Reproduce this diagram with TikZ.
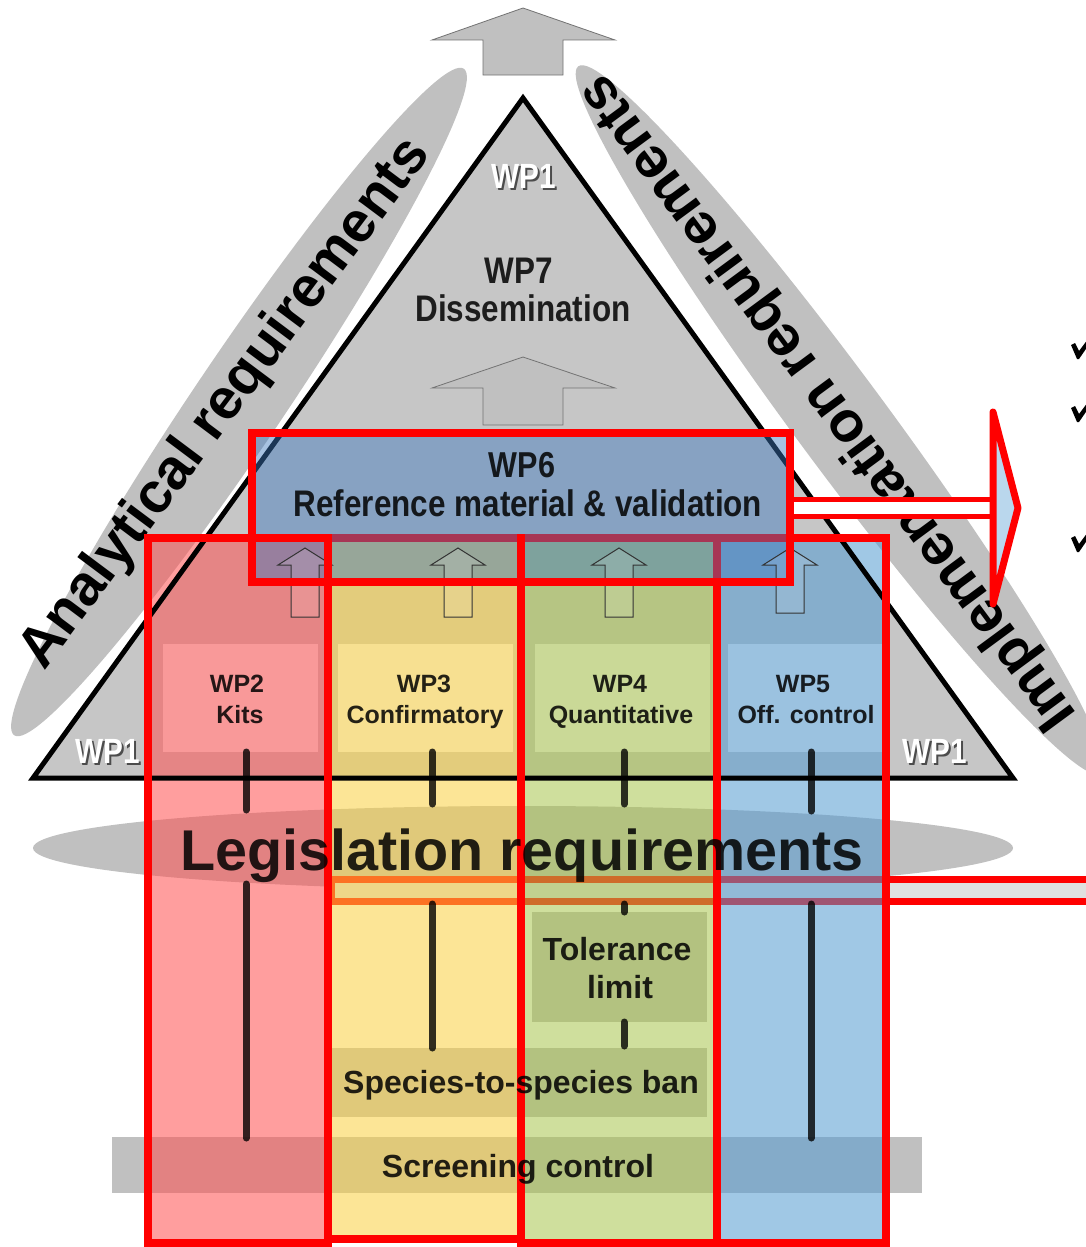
\documentclass[tikz,border=0pt]{standalone}
\usepackage{fontspec}
\setmainfont{Liberation Sans}
\newfontfamily\nar[FakeStretch=0.85]{Liberation Sans}
\definecolor{gr}{HTML}{C0C0C0}
\definecolor{tri}{HTML}{C6C6C6}
\definecolor{cRed}{RGB}{255,80,80}
\definecolor{cYel}{RGB}{251,209,65}
\definecolor{cGrn}{RGB}{169,197,77}
\definecolor{cBlu}{RGB}{83,155,209}
\definecolor{cWP}{RGB}{60,120,190}
\definecolor{rl}{RGB}{255,0,0}
\begin{document}
\begin{tikzpicture}[x=1pt,y=-1pt,
  graybox/.style={fill=gr},
  colfill/.style={fill opacity=0.55},
  redline/.style={draw=rl,line width=8pt,line join=miter},
  vline/.style={draw=black,draw opacity=0.8,line width=7pt,line cap=round},
  bigarrow/.style={fill=gr,draw=black!55,line width=0.8pt},
  smallarrow/.style={draw=black!80,line width=1pt,fill=white,fill opacity=0.12},
  lbl/.style={text=black,text opacity=0.85,inner sep=0pt,anchor=base,align=center},
  wplbl/.style={lbl,font=\bfseries\fontsize{25}{31}\selectfont},
  wpone/.style={inner sep=0pt,anchor=base,font=\nar\bfseries\fontsize{35}{40}\selectfont},
  req/.style={inner sep=0pt,font=\bfseries\fontsize{57}{64}\selectfont}]
\useasboundingbox (0,0) rectangle (1085,1247);
\fill[white] (0,0) rectangle (1085,1247);
% top arrow
\draw[bigarrow] (523,8)--(615,40)--(563,40)--(563,75)--(483,75)--(483,40)--(432,40)--cycle;
% side ellipses
\fill[gr,rotate around={56:(239,402)}] (239,402) ellipse [x radius=402pt,y radius=45pt];
\fill[gr,rotate around={-53.5:(840,420)}] (840,420) ellipse [x radius=440pt,y radius=46pt];
\node[req,rotate=53.2] (anreq) at (226,404) {Analytical requirements};
\node[req,rotate=126.4] (imreq) at (829,402) {Implementation requirements};
% triangle
\fill[tri] (523,98)--(1013,778)--(33,778)--cycle;
\foreach \n/\x/\y in {t/524/188,l/108/763,r/935/763}{
  \node[wpone,text=black!70] (wpsh\n) at (\x+2,\y+2) {WP1};
  \node[wpone,text=white] (wpone\n) at (\x,\y) {WP1};}
\node[lbl,font=\nar\bfseries\fontsize{37}{42}\selectfont] (wp7) at (519,283) {WP7};
\node[lbl,font=\nar\bfseries\fontsize{37}{42}\selectfont] (diss) at (523,321) {Dissemination};
\draw[bigarrow] (523,357)--(615,388)--(563,388)--(563,425)--(483,425)--(483,388)--(432,388)--cycle;
% WP boxes
\fill[white,fill opacity=0.8] (163,644) rectangle (318,752);
\fill[white,fill opacity=0.8] (338,644) rectangle (513,752);
\fill[white,fill opacity=0.8] (535,644) rectangle (710,752);
\fill[white,fill opacity=0.8] (728,644) rectangle (882,752);
% legislation ellipse, bar, boxes
\fill[gr] (523,848) ellipse [x radius=490pt,y radius=42pt];
\draw[draw=rl,line width=7pt,fill=black!12] (331,879) rectangle (1100,901);
\fill[graybox] (532,912) rectangle (707,1022);
\fill[graybox] (331,1048) rectangle (707,1117);
\fill[graybox] (112,1137) rectangle (922,1193);
% column fills
\fill[cYel,colfill] (328,538) rectangle (521,1239);
\fill[cGrn,colfill] (521,538) rectangle (717,1243);
\fill[cBlu,colfill] (717,538) rectangle (886,1243);
\fill[cRed,colfill] (148,538) rectangle (328,1243);
% triangle outline
\draw[black,line width=5pt,line join=miter] (523,98)--(1013,778)--(33,778)--cycle;
% red outlines of columns 3-5
\draw[redline] (328,538) rectangle (521,1239);
\draw[redline] (521,538) rectangle (717,1243);
\draw[redline] (717,538) rectangle (886,1243);
% WP6 fill
\fill[cWP,fill opacity=0.45] (252,433) rectangle (790,582);
% vertical lines
\draw[vline] (246,752)--(246,810) (246,884)--(246,1138);
\draw[vline] (432,752)--(432,804) (432,904)--(432,1048);
\draw[vline] (624,752)--(624,804) (624,904)--(624,912) (624,1022)--(624,1046);
\draw[vline] (811,752)--(811,811) (811,904)--(811,1138);
% small arrows
\foreach \c/\b in {305/617,458/617,619/617,790/613}{
  \draw[smallarrow] (\c,548)--(\c+27,565)--(\c+14,565)--(\c+14,\b)--(\c-14,\b)--(\c-14,565)--(\c-27,565)--cycle;}
% WP6 outline and arrow
\draw[draw=rl,line width=5pt,fill=white] (790,499) rectangle (993,516);
\draw[draw=rl,line width=7pt,fill=cBlu!40,line join=round] (993,412)--(1018,508)--(993,604)--cycle;
\draw[redline] (252,433) rectangle (790,582);
\draw[redline] (148,538) rectangle (328,1243);
\draw[draw=rl,line width=8pt] (521,534)--(521,1247);
% check marks (cut off at the right edge)
\foreach \y in {349,412,542}{\fill[black] (1071,\y-4)--(1075,\y-6)--(1079,\y+2)--(1088,\y-10)--(1090,\y-6)--(1079,\y+10)--(1077,\y+10)--cycle;}
% texts
\node[lbl,font=\nar\bfseries\fontsize{36}{42}\selectfont] (wp6) at (522,477) {WP6};
\node[lbl,font=\nar\bfseries\fontsize{37}{42}\selectfont] (refmat) at (528,516) {Reference material \& validation};
\node[wplbl] (wp2) at (237,692) {WP2};
\node[wplbl] (kits) at (240,723) {Kits};
\node[wplbl] (wp3) at (424,692) {WP3};
\node[wplbl] (conf) at (425,723) {Confirmatory};
\node[wplbl] (wp4) at (620,692) {WP4};
\node[wplbl] (quant) at (621,723) {Quantitative};
\node[wplbl] (wp5) at (803,692) {WP5};
\node[wplbl] (offc) at (806,723) {Off. control};
\node[lbl,font=\bfseries\fontsize{57.5}{60}\selectfont] (legis) at (522,870) {Legislation requirements};
\node[lbl,font=\bfseries\fontsize{32}{38}\selectfont] (tol) at (617,960) {Tolerance};
\node[lbl,font=\bfseries\fontsize{32}{38}\selectfont] (lim) at (620,998) {limit};
\node[lbl,font=\bfseries\fontsize{32}{38}\selectfont] (spec) at (521,1093) {Species-to-species ban};
\node[lbl,font=\bfseries\fontsize{32}{38}\selectfont] (scr) at (518,1177) {Screening control};
\end{tikzpicture}
\end{document}
